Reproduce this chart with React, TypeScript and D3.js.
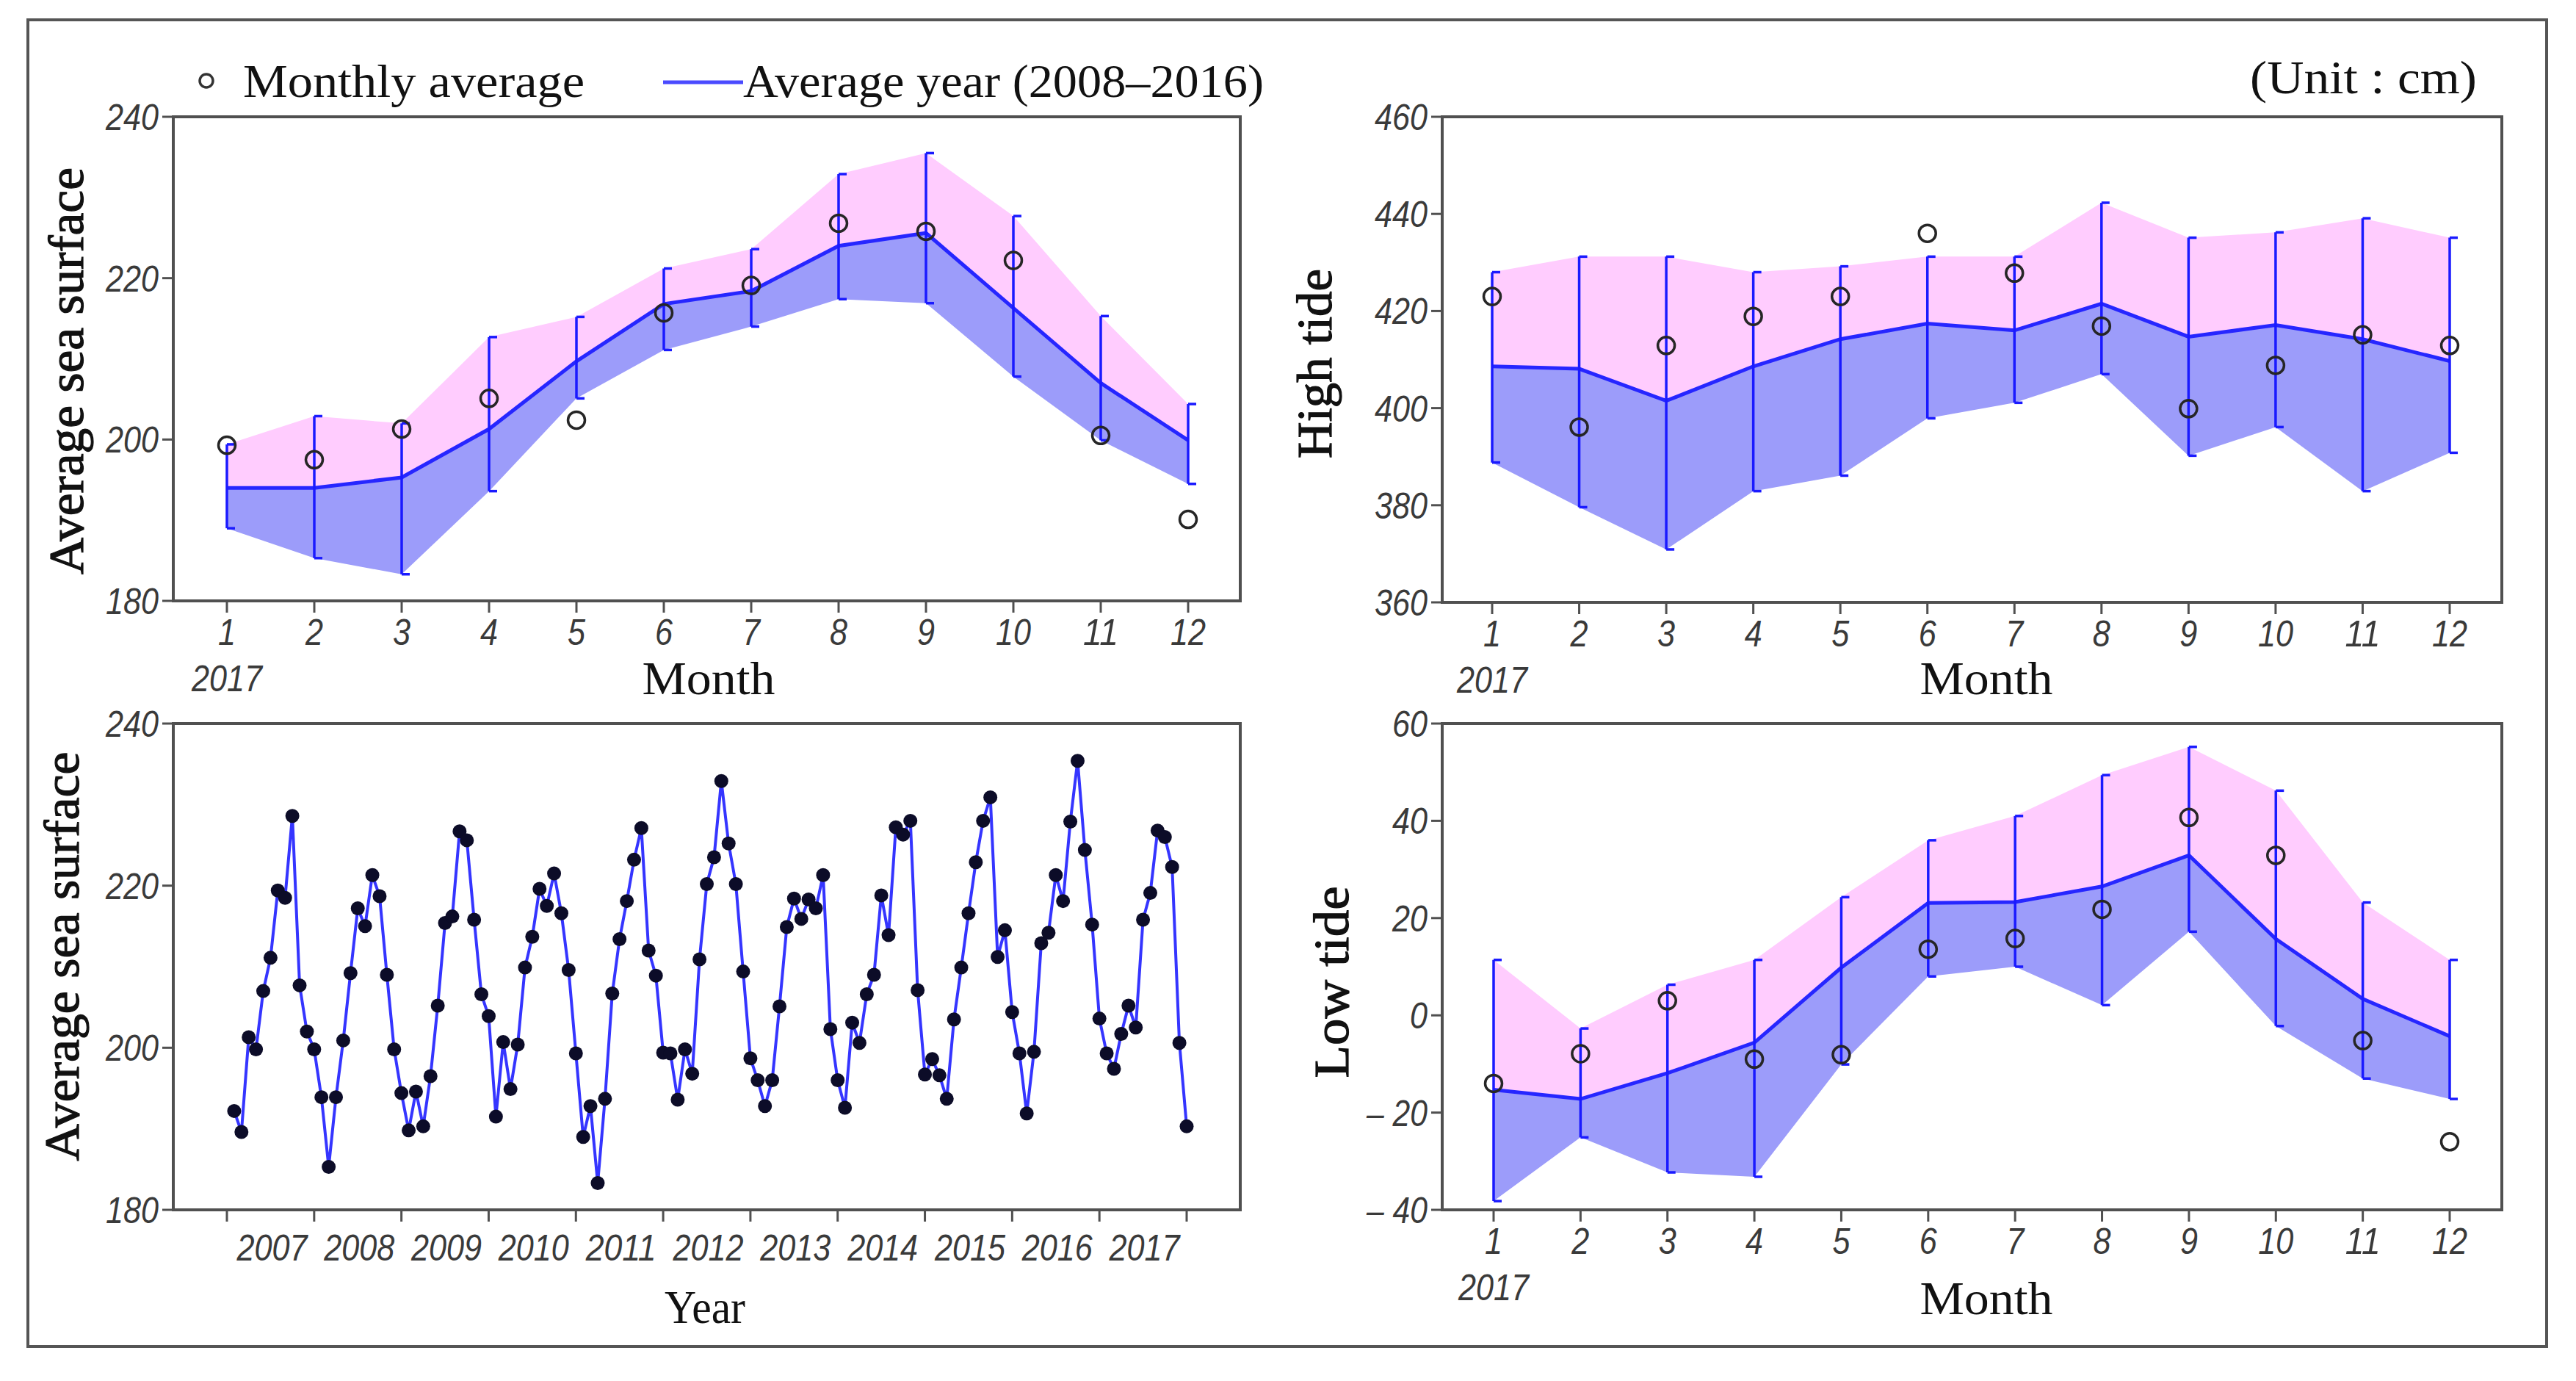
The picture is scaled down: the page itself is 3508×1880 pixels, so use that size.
import * as d3 from 'd3';
import React, { useEffect, useRef } from 'react';

// months of the 2017 panels
const months = [1, 2, 3, 4, 5, 6, 7, 8, 9, 10, 11, 12];

// average sea surface (cm)
const seaMonthly2017 = [199.3, 197.5, 201.3, 205.1, 202.4, 215.7, 219.1, 226.8, 225.8, 222.2, 200.5, 190.1];
const seaAvgYear = [194.0, 194.0, 195.3, 201.3, 209.7, 216.8, 218.4, 224.0, 225.6, 216.3, 207.0, 199.9];
const seaUpper = [199.4, 202.9, 202.0, 212.7, 215.2, 221.2, 223.6, 232.9, 235.5, 227.7, 215.3, 204.4];
const seaLower = [189.0, 185.3, 183.3, 193.6, 205.1, 211.1, 214.0, 217.4, 216.9, 207.8, 199.9, 194.5];

// high tide (cm)
const highMonthly2017 = [423.0, 396.1, 412.9, 418.9, 423.0, 436.0, 427.8, 416.9, 399.9, 408.8, 415.1, 412.9];
const highAvgYear = [408.6, 408.1, 401.5, 408.6, 414.2, 417.4, 416.0, 421.5, 414.7, 417.1, 414.2, 409.7];
const highUpper = [428.0, 431.2, 431.2, 428.0, 429.2, 431.2, 431.2, 442.3, 435.1, 436.2, 439.1, 435.1];
const highLower = [388.8, 379.6, 370.9, 382.9, 386.1, 397.9, 401.1, 407.0, 390.2, 396.1, 382.9, 390.8];

// low tide (cm)
const lowMonthly2017 = [-14.0, -7.9, 3.0, -9.0, -8.1, 13.6, 15.8, 21.8, 40.7, 32.9, -5.2, -26.0];
const lowAvgYear = [-15.3, -17.2, -11.9, -5.6, 9.8, 23.1, 23.3, 26.5, 32.9, 15.7, 3.4, -4.3];
const lowUpper = [11.4, -2.7, 6.3, 11.4, 24.3, 36.0, 41.0, 49.4, 55.2, 46.2, 23.2, 11.4];
const lowLower = [-38.2, -25.1, -32.3, -33.2, -10.1, 8.0, 10.0, 2.1, 17.2, -2.2, -13.0, -17.2];

// monthly sea surface 2007-2017
const years = [2007, 2008, 2009, 2010, 2011, 2012, 2013, 2014, 2015, 2016, 2017];
const seaSeries = [
  192.2, 189.6, 201.3, 199.8, 207.0, 211.1, 219.4, 218.5, 228.6, 207.7, 202.0, 199.8,
  193.9, 185.3, 193.9, 200.9, 209.2, 217.2, 215.0, 221.3, 218.7, 209.0, 199.8, 194.4,
  189.8, 194.6, 190.3, 196.5, 205.2, 215.4, 216.2, 226.7, 225.6, 215.8, 206.6, 203.9,
  191.5, 200.7, 194.9, 200.4, 209.9, 213.7, 219.6, 217.5, 221.5, 216.6, 209.6, 199.3,
  189.0, 192.8, 183.3, 193.7, 206.7, 213.4, 218.1, 223.2, 227.1, 212.0, 208.9, 199.4,
  199.3, 193.6, 199.8, 196.8, 210.9, 220.2, 223.5, 232.9, 225.2, 220.2, 209.4, 198.7,
  196.0, 192.8, 196.0, 205.1, 214.9, 218.4, 215.9, 218.3, 217.2, 221.3, 202.3, 196.0,
  192.6, 203.1, 200.6, 206.6, 209.0, 218.8, 213.9, 227.2, 226.3, 228.0, 207.1, 196.7,
  198.6, 196.6, 193.7, 203.5, 209.9, 216.6, 222.9, 228.0, 230.9, 211.2, 214.5, 204.4,
  199.3, 191.9, 199.5, 212.9, 214.2, 221.3, 218.1, 227.9, 235.4, 224.4, 215.2, 203.6,
  199.3, 197.4, 201.7, 205.2, 202.5, 215.8, 219.1, 226.8, 226.0, 222.3, 200.6, 190.3,
];

const seaTicks = [180, 200, 220, 240];
const highTicks = [360, 380, 400, 420, 440, 460];
const lowTicks = [-40, -20, 0, 20, 40, 60];

const W = 3508;
const H = 1880;
const SERIF = '"Liberation Serif", "Times New Roman", serif';
const NARROW = '"Liberation Sans Narrow", "Arial Narrow", "Liberation Sans", sans-serif';
const PINK = '#ffccfe';
const LAVENDER = '#9c9cfa';
const BLUE = '#2626ff';
const FRAME = '#505050';
const TICKTXT = '#3a3a3a';

type Box = { left: number; right: number; top: number; bottom: number };
type Sel = d3.Selection<SVGGElement, unknown, null, undefined>;

const fmtLow = (v: number) => (v < 0 ? '\u2013 ' + Math.abs(v) : String(v));

// squeeze the tick labels like a narrow italic face
const narrowWidth = (s: string) => s.split('').reduce((w, c) => w + (c === ' ' ? 11 : 24), 0);

function tickText(g: Sel, x: number, y: number, s: string, anchor: string) {
  g.append('text')
    .attr('x', x).attr('y', y)
    .attr('text-anchor', anchor)
    .attr('font-family', NARROW).attr('font-style', 'italic')
    .attr('font-size', 50).attr('fill', TICKTXT)
    .attr('textLength', narrowWidth(s)).attr('lengthAdjust', 'spacingAndGlyphs')
    .text(s);
}

function drawFrame(g: Sel, box: Box, y: d3.ScaleLinear<number, number>, ticks: number[], fmt: (v: number) => string) {
  g.append('rect')
    .attr('x', box.left).attr('y', box.top)
    .attr('width', box.right - box.left).attr('height', box.bottom - box.top)
    .attr('fill', 'none').attr('stroke', FRAME).attr('stroke-width', 4);
  ticks.forEach(t => {
    g.append('line')
      .attr('x1', box.left - 15).attr('x2', box.left)
      .attr('y1', y(t)).attr('y2', y(t))
      .attr('stroke', FRAME).attr('stroke-width', 3);
    tickText(g, box.left - 20, y(t) + 18, fmt(t), 'end');
  });
}

function drawBandPanel(
  g: Sel, box: Box, xr: [number, number], domain: [number, number], ticks: number[],
  upper: number[], mean: number[], lower: number[], obs: number[], fmt: (v: number) => string,
) {
  const x = d3.scaleLinear().domain([1, 12]).range(xr);
  const y = d3.scaleLinear().domain(domain).range([box.bottom, box.top]);

  const upArea = d3.area<number>().x(m => x(m)).y0((_d, i) => y(mean[i])).y1((_d, i) => y(upper[i]));
  const lowArea = d3.area<number>().x(m => x(m)).y0((_d, i) => y(lower[i])).y1((_d, i) => y(mean[i]));
  g.append('path').datum(months).attr('d', upArea).attr('fill', PINK);
  g.append('path').datum(months).attr('d', lowArea).attr('fill', LAVENDER);

  const meanLine = d3.line<number>().x(m => x(m)).y((_d, i) => y(mean[i]));
  g.append('path').datum(months).attr('d', meanLine)
    .attr('fill', 'none').attr('stroke', BLUE).attr('stroke-width', 5);

  // error bars with small caps to the right
  months.forEach((m, i) => {
    const cx = x(m);
    g.append('line').attr('x1', cx).attr('x2', cx).attr('y1', y(upper[i])).attr('y2', y(lower[i]))
      .attr('stroke', '#1a1aff').attr('stroke-width', 3.5);
    [upper[i], lower[i]].forEach(v => {
      g.append('line').attr('x1', cx).attr('x2', cx + 11).attr('y1', y(v)).attr('y2', y(v))
        .attr('stroke', '#1a1aff').attr('stroke-width', 3.5);
    });
  });

  g.selectAll('circle.obs').data(obs).enter().append('circle')
    .attr('class', 'obs')
    .attr('cx', (_d, i) => x(months[i])).attr('cy', d => y(d))
    .attr('r', 11.5).attr('fill', 'none').attr('stroke', '#262626').attr('stroke-width', 3.5);

  drawFrame(g, box, y, ticks, fmt);

  months.forEach(m => {
    g.append('line').attr('x1', x(m)).attr('x2', x(m)).attr('y1', box.bottom).attr('y2', box.bottom + 16)
      .attr('stroke', FRAME).attr('stroke-width', 3);
    tickText(g, x(m), box.bottom + 60, String(m), 'middle');
  });
  tickText(g, x(1), box.bottom + 123, '2017', 'middle');
}

function label(g: Sel, text: string, cx: number, cy: number, len: number, rotate = false) {
  const t = g.append('text')
    .attr('font-family', SERIF).attr('font-size', rotate ? 68 : 64).attr('fill', '#111')
    .attr('text-anchor', 'middle')
    .attr('textLength', len).attr('lengthAdjust', 'spacingAndGlyphs')
    .text(text);
  if (rotate) {
    // the axis titles are printed a little heavier
    t.attr('stroke', '#111').attr('stroke-width', 1.2)
      .attr('transform', `translate(${cx + 23},${cy}) rotate(-90)`);
  } else {
    t.attr('x', cx).attr('y', cy + 22);
  }
}

const App: React.FC = () => {
  const ref = useRef<SVGSVGElement | null>(null);

  useEffect(() => {
    if (!ref.current) return;
    const svg = d3.select(ref.current);
    svg.selectAll('*').remove();
    const root = svg.append('g') as unknown as Sel;

    root.append('rect').attr('width', W).attr('height', H).attr('fill', '#fff');
    root.append('rect')
      .attr('x', 38).attr('y', 27).attr('width', 3430).attr('height', 1806)
      .attr('fill', 'none').attr('stroke', '#555').attr('stroke-width', 4);

    // legend
    root.append('circle').attr('cx', 281).attr('cy', 110).attr('r', 9)
      .attr('fill', 'none').attr('stroke', '#333').attr('stroke-width', 3.5);
    root.append('text').attr('x', 331).attr('y', 132)
      .attr('font-family', SERIF).attr('font-size', 64).attr('fill', '#111')
      .attr('textLength', 465).attr('lengthAdjust', 'spacingAndGlyphs')
      .text('Monthly average');
    root.append('line').attr('x1', 903).attr('x2', 1012).attr('y1', 112).attr('y2', 112)
      .attr('stroke', '#4a4aff').attr('stroke-width', 5);
    root.append('text').attr('x', 1012).attr('y', 132)
      .attr('font-family', SERIF).attr('font-size', 64).attr('fill', '#111')
      .attr('textLength', 709).attr('lengthAdjust', 'spacingAndGlyphs')
      .text('Average year (2008\u20132016)');
    root.append('text').attr('x', 3373).attr('y', 127)
      .attr('text-anchor', 'end')
      .attr('font-family', SERIF).attr('font-size', 64).attr('fill', '#111')
      .attr('textLength', 309).attr('lengthAdjust', 'spacingAndGlyphs')
      .text('(Unit : cm)');

    // top left: average sea surface, 2017
    const tl: Box = { left: 236, right: 1689, top: 159, bottom: 818 };
    drawBandPanel(root.append('g') as unknown as Sel, tl, [309, 1618], [180, 240], seaTicks,
      seaUpper, seaAvgYear, seaLower, seaMonthly2017, String);
    label(root, 'Average  sea  surface', 90, 505, 554, true);
    label(root, 'Month', 965, 923, 181);

    // top right: high tide
    const tr: Box = { left: 1964, right: 3407, top: 159, bottom: 820 };
    drawBandPanel(root.append('g') as unknown as Sel, tr, [2032, 3336], [360, 460], highTicks,
      highUpper, highAvgYear, highLower, highMonthly2017, String);
    label(root, 'High  tide', 1790, 495, 258, true);
    label(root, 'Month', 2705, 923, 181);

    // bottom right: low tide
    const br: Box = { left: 1964, right: 3407, top: 985, bottom: 1647 };
    drawBandPanel(root.append('g') as unknown as Sel, br, [2034, 3336], [-40, 60], lowTicks,
      lowUpper, lowAvgYear, lowLower, lowMonthly2017, fmtLow);
    label(root, 'Low  tide', 1813, 1337, 261, true);
    label(root, 'Month', 2705, 1767, 181);

    // bottom left: monthly series 2007-2017
    const bl: Box = { left: 236, right: 1689, top: 985, bottom: 1647 };
    const g = root.append('g') as unknown as Sel;
    const xYear = d3.scaleLinear().domain([years[0], years[years.length - 1] + 1]).range([309, 1616]);
    const yBl = d3.scaleLinear().domain([180, 240]).range([bl.bottom, bl.top]);
    const xOf = (_d: number, i: number) => xYear(years[0] + (i + 1) / 12);
    g.append('path').datum(seaSeries)
      .attr('d', d3.line<number>().x(xOf).y(d => yBl(d)))
      .attr('fill', 'none').attr('stroke', '#3535ff').attr('stroke-width', 4);
    g.selectAll('circle.pt').data(seaSeries).enter().append('circle')
      .attr('class', 'pt')
      .attr('cx', xOf).attr('cy', d => yBl(d)).attr('r', 9.5).attr('fill', '#0c0c28');
    drawFrame(g, bl, yBl, seaTicks, String);
    const yearTicks = [...years, years[years.length - 1] + 1];
    yearTicks.forEach(yr => {
      g.append('line').attr('x1', xYear(yr)).attr('x2', xYear(yr))
        .attr('y1', bl.bottom).attr('y2', bl.bottom + 16)
        .attr('stroke', FRAME).attr('stroke-width', 3);
    });
    years.forEach(yr => {
      tickText(g, xYear(yr + 0.5) + 2, 1716, String(yr), 'middle');
    });
    label(root, 'Average  sea  surface', 84, 1302, 557, true);
    label(root, 'Year', 960, 1779, 110);
  }, []);

  return (
    <div style={{ position: 'absolute', left: 0, top: 0 }}>
      <svg ref={ref} width={W} height={H} />
    </div>
  );
};

export default App;
